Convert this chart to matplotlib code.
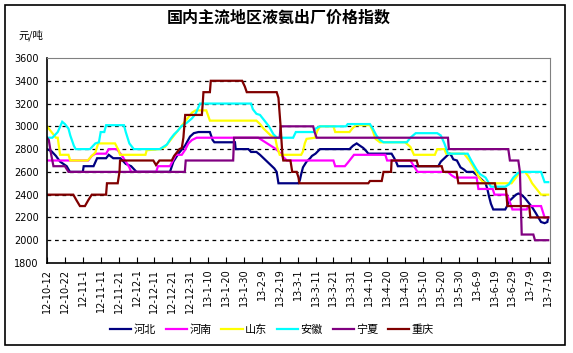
import matplotlib
matplotlib.use("Agg")
import matplotlib.pyplot as plt
from matplotlib.patches import Rectangle

plt.rcParams['font.family'] = ['Noto Sans CJK SC', 'DejaVu Sans']

# day offsets from 2012-10-12, tick every 10 days
tick_labels = ["12-10-12", "12-10-22", "12-11-1", "12-11-11", "12-11-21", "12-12-1",
               "12-12-11", "12-12-21", "12-12-31", "13-1-10", "13-1-20", "13-1-30",
               "13-2-9", "13-2-19", "13-3-1", "13-3-11", "13-3-21", "13-3-31",
               "13-4-10", "13-4-20", "13-4-30", "13-5-10", "13-5-20", "13-5-30",
               "13-6-9", "13-6-19", "13-6-29", "13-7-9", "13-7-19"]

names = ["河北", "河南", "山东", "安徽", "宁夏", "重庆"]
colors = ["#000080", "#FF00FF", "#FFFF00", "#00FFFF", "#800080", "#800000"]

hebei_days = [0, 2.6, 5, 7.3, 11, 12.8, 20, 20.5, 26, 28, 33, 34.5, 37, 41, 44, 47, 50,
              68.7, 70.6, 73.4, 77.1, 79.9, 82, 84.6, 91, 92.5, 93.5, 105, 105.4, 112.5,
              114, 117, 119, 121, 123, 125, 127, 128.3, 129.3, 140.4, 141.3, 142, 143,
              145, 147, 148, 150, 152.5, 169, 171, 173, 174.8, 176.7, 178.5, 179.5,
              192.5, 194, 195, 196, 218.6, 220, 222, 224, 225, 226, 227, 229, 230, 231,
              233, 234.4, 238, 241, 243, 245, 246, 247, 248, 249.3, 256, 257, 258, 260,
              262, 263.3, 265, 267, 269, 271, 273, 274.5, 276, 278, 279.5, 280]
hebei_vals = [2800, 2780, 2740, 2690, 2650, 2600, 2600, 2650, 2650, 2720, 2720, 2750,
              2720, 2720, 2670, 2650, 2600, 2600, 2690, 2760, 2830, 2910, 2940, 2950,
              2950, 2880, 2860, 2860, 2800, 2800, 2775, 2775, 2750, 2720, 2690, 2660,
              2630, 2600, 2500, 2500, 2530, 2580, 2640, 2690, 2720, 2740, 2760, 2800,
              2800, 2830, 2850, 2830, 2810, 2780, 2760, 2760, 2720, 2690, 2650, 2650,
              2690, 2720, 2750, 2760, 2740, 2710, 2700, 2670, 2640, 2620, 2600, 2600,
              2560, 2530, 2500, 2450, 2380, 2320, 2270, 2270, 2300, 2340, 2370, 2400,
              2410, 2400, 2370, 2330, 2290, 2240, 2200, 2160, 2150, 2160, 2200]

henan_days = [0, 23, 25, 27, 33, 34.5, 39, 40, 42, 44, 46, 47, 61, 62, 68.7, 70, 72,
              75.3, 77, 79, 81, 83.6, 118, 120, 122, 124, 126, 128, 130, 132, 134, 160,
              161, 166.4, 168, 170, 171.5, 189, 190, 203, 205, 207, 224, 226, 228, 240,
              241, 249, 250, 257, 258, 260, 268, 269, 276, 277, 278, 280]
henan_vals = [2700, 2700, 2740, 2760, 2760, 2800, 2800, 2780, 2740, 2690, 2640, 2600,
              2600, 2650, 2650, 2690, 2750, 2750, 2790, 2850, 2880, 2900, 2900, 2880,
              2860, 2840, 2820, 2800, 2770, 2730, 2700, 2700, 2650, 2650, 2680, 2720,
              2750, 2750, 2700, 2700, 2650, 2600, 2600, 2570, 2550, 2550, 2450, 2450,
              2400, 2400, 2360, 2270, 2270, 2300, 2300, 2250, 2200, 2200]

shandong_days = [0, 3, 5, 6, 7.3, 12, 13, 22.7, 25, 27, 28.6, 38, 40, 40.8, 55, 55.7, 63,
                 66, 69, 72, 75, 78, 81, 83, 89, 91, 117, 119, 121, 123, 125, 127.5,
                 128.5, 130, 142, 143, 144, 145, 149.7, 151, 152.5, 160, 161, 169, 170.5,
                 172.5, 180.4, 182, 183.5, 186, 200, 203, 205, 216.7, 218, 222, 223, 233,
                 236, 238, 241, 243, 245, 259.5, 262, 264, 267, 269, 271, 274, 276, 280]
shandong_vals = [3000, 2940, 2900, 2900, 2750, 2750, 2700, 2700, 2740, 2770, 2850, 2850,
                 2790, 2750, 2750, 2790, 2800, 2820, 2880, 2940, 3000, 3060, 3120, 3140,
                 3140, 3050, 3050, 3020, 2980, 2950, 2920, 2900, 2820, 2750, 2750, 2780,
                 2850, 2890, 2900, 2960, 3000, 3000, 2950, 2950, 2980, 3010, 3010, 2960,
                 2890, 2860, 2860, 2820, 2750, 2750, 2800, 2800, 2760, 2760, 2700, 2650,
                 2560, 2520, 2500, 2500, 2550, 2600, 2600, 2560, 2500, 2440, 2400, 2400]

anhui_days = [0, 3, 6, 8.5, 10, 12, 13, 15, 16, 24, 27, 29, 30, 32, 33, 43, 44, 46, 48.5,
              63, 65, 67, 69, 71, 73, 75, 78, 81, 83, 85.5, 114, 115, 117, 119, 121, 124,
              126.5, 128.5, 137.5, 139, 149, 150, 152.5, 167, 168, 180.4, 182, 184, 186,
              188, 201, 203, 206, 218, 220, 222, 224, 235, 237, 240, 242, 245, 248, 256,
              258, 260.5, 263, 265, 276, 278, 280]
anhui_vals = [2900, 2900, 2950, 3040, 3020, 2980, 2920, 2830, 2800, 2800, 2850, 2860,
              2950, 2950, 3010, 3010, 2950, 2850, 2800, 2800, 2820, 2840, 2890, 2930,
              2960, 3000, 3030, 3070, 3110, 3200, 3200, 3150, 3110, 3100, 3060, 3000,
              2930, 2900, 2900, 2950, 2950, 2980, 3000, 3000, 3020, 3020, 2980, 2920,
              2880, 2860, 2860, 2900, 2940, 2940, 2920, 2850, 2760, 2760, 2700, 2620,
              2580, 2550, 2470, 2470, 2490, 2550, 2590, 2600, 2600, 2510, 2510]

ningxia_days = [0, 1, 2, 3.6, 10, 12, 77, 77.5, 104, 104.5, 130, 130.5, 148.7, 149.5,
                150.6, 224, 224.5, 257.7, 258.6, 263.3, 264.2, 265.2, 271.7, 272.6, 280]
ningxia_vals = [2900, 2880, 2780, 2650, 2650, 2600, 2600, 2700, 2700, 2900, 2900, 3000,
                3000, 2950, 2900, 2900, 2800, 2800, 2700, 2700, 2600, 2050, 2050, 2000,
                2000]

chongqing_days = [0, 14.7, 16.5, 18.4, 21.2, 23, 25, 33, 33.5, 39.5, 40.5, 40.8, 59.4,
                  60.9, 62.8, 69.7, 71, 73, 74, 75.3, 76.2, 77.2, 86.5, 87, 87.4, 91,
                  91.5, 109, 110.5, 111.6, 128.3, 129.3, 130.5, 131.5, 132, 136, 136.5,
                  137, 139.5, 140.5, 141, 179.5, 180.4, 187, 188, 192.2, 192.5, 206.5,
                  207.4, 220.5, 221.4, 228.8, 229.8, 250.2, 250.8, 256.4, 257.2, 269.4,
                  270, 280]
chongqing_vals = [2400, 2400, 2350, 2300, 2300, 2350, 2400, 2400, 2500, 2500, 2600, 2700,
                  2700, 2660, 2700, 2700, 2740, 2780, 2800, 2810, 2900, 3100, 3100, 3200,
                  3300, 3300, 3400, 3400, 3350, 3300, 3300, 3250, 3000, 2750, 2700, 2700,
                  2650, 2600, 2600, 2550, 2500, 2500, 2520, 2520, 2600, 2600, 2700, 2700,
                  2650, 2650, 2600, 2600, 2500, 2500, 2450, 2450, 2300, 2300, 2200, 2200]

series = [(hebei_days, hebei_vals), (henan_days, henan_vals),
          (shandong_days, shandong_vals), (anhui_days, anhui_vals),
          (ningxia_days, ningxia_vals), (chongqing_days, chongqing_vals)]

fig = plt.figure(figsize=(5.73, 3.53), dpi=100)
ax = fig.add_axes([47 / 573, 90 / 353, 503 / 573, 205 / 353])

for (d, v), name, c in zip(series, names, colors):
    ax.plot(d, v, color=c, lw=1.6, label=name, solid_joinstyle='miter')

ax.set_xlim(0, 281)
ax.set_ylim(1800, 3600)
ax.set_yticks(range(1800, 3601, 200))
ax.set_yticklabels([str(v) for v in range(1800, 3601, 200)], fontsize=7,
                   family='DejaVu Sans')
ax.set_xticks(range(0, 281, 10))
ax.set_xticklabels(tick_labels, rotation=90, fontsize=7, family='DejaVu Sans')
ax.tick_params(axis='y', length=0, pad=6)
ax.tick_params(axis='x', direction='in', length=4, pad=4)

for y in range(2000, 3600, 200):
    ax.axhline(y, color='black', lw=0.9, ls=(0, (3, 3)), zorder=0)

ax.spines['top'].set_color('#808080')
ax.spines['right'].set_color('#808080')
for s in ['left', 'bottom']:
    ax.spines[s].set_color('black')
    ax.spines[s].set_linewidth(1.2)

fig.text(279 / 573, 1 - 18 / 353, "国内主流地区液氨出厂价格指数", ha='center',
         va='center', fontsize=11.5, fontweight='bold')
fig.text(18 / 573, 1 - 35 / 353, "元/吨", ha='left', va='center', fontsize=7.5)

fig.legend(loc='center', bbox_to_anchor=(272 / 573, 1 - 330 / 353), ncol=6,
           frameon=False, fontsize=8, handlelength=1.9, columnspacing=0.9,
           handletextpad=0.2)

fig.patches.append(Rectangle((5 / 573, 8 / 353), 560 / 573, 340 / 353,
                             transform=fig.transFigure, fill=False,
                             edgecolor='black', lw=1.2))

fig.savefig("out.png", dpi=100)
